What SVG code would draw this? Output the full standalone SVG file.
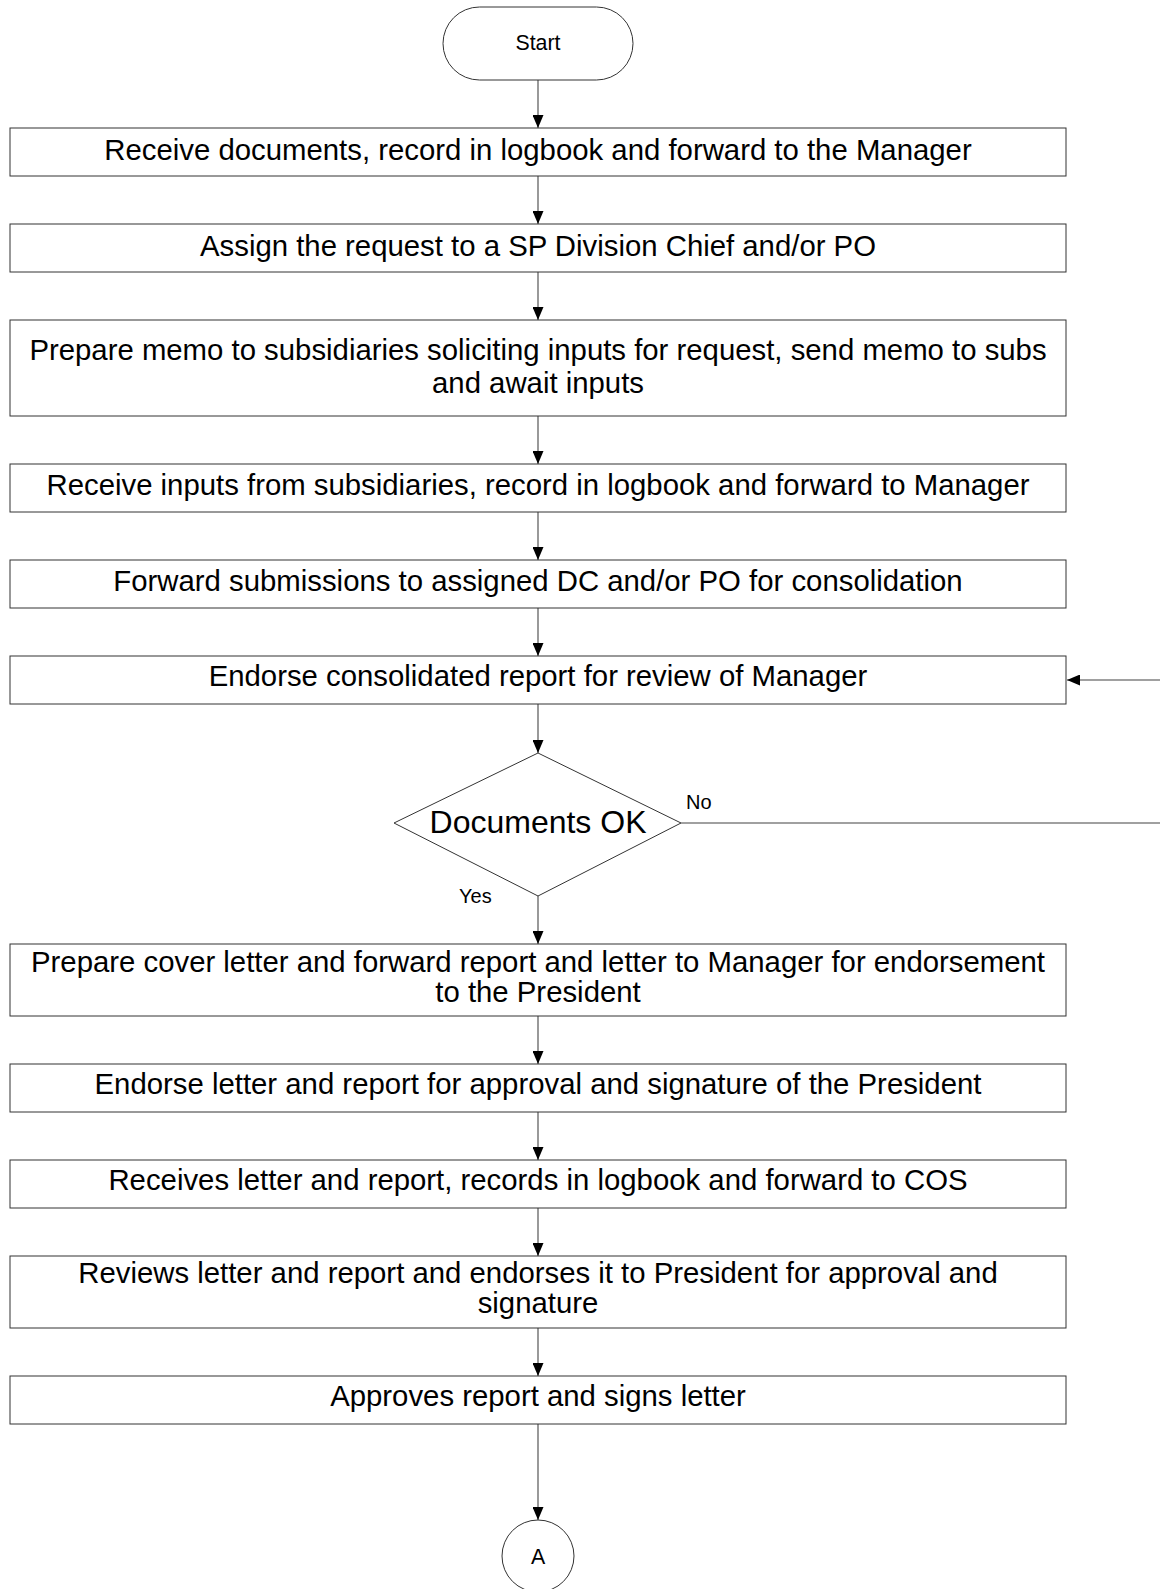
<svg xmlns="http://www.w3.org/2000/svg" width="1160" height="1589" viewBox="0 0 1160 1589">
<style>
.box{fill:#fff;stroke:#333;stroke-width:1}
.t{font-family:"Liberation Sans",Arial,sans-serif;font-size:29.33px;fill:#000;text-anchor:middle}
.s{font-family:"Liberation Sans",Arial,sans-serif;font-size:21.33px;fill:#000;text-anchor:middle}
.l{font-family:"Liberation Sans",Arial,sans-serif;font-size:20px;fill:#000}
.c{fill:none;stroke:#808080;stroke-width:1.6}
</style>
<defs>
<marker id="ah" viewBox="0 0 13 11" refX="13" refY="5.5" markerWidth="13" markerHeight="11" markerUnits="userSpaceOnUse" orient="auto">
<path d="M0,0 L13,5.5 L0,11 z" fill="#000"/>
</marker>
</defs>
<g id="connectors">
<line class="c" x1="538" y1="80" x2="538" y2="128" marker-end="url(#ah)"/>
<line class="c" x1="538" y1="176" x2="538" y2="224" marker-end="url(#ah)"/>
<line class="c" x1="538" y1="272" x2="538" y2="320" marker-end="url(#ah)"/>
<line class="c" x1="538" y1="416" x2="538" y2="464" marker-end="url(#ah)"/>
<line class="c" x1="538" y1="512" x2="538" y2="560" marker-end="url(#ah)"/>
<line class="c" x1="538" y1="608" x2="538" y2="656" marker-end="url(#ah)"/>
<line class="c" x1="538" y1="704" x2="538" y2="753" marker-end="url(#ah)"/>
<line class="c" x1="538" y1="896" x2="538" y2="944" marker-end="url(#ah)"/>
<line class="c" x1="538" y1="1016" x2="538" y2="1064" marker-end="url(#ah)"/>
<line class="c" x1="538" y1="1112" x2="538" y2="1160" marker-end="url(#ah)"/>
<line class="c" x1="538" y1="1208" x2="538" y2="1256" marker-end="url(#ah)"/>
<line class="c" x1="538" y1="1328" x2="538" y2="1376" marker-end="url(#ah)"/>
<line class="c" x1="538" y1="1424" x2="538" y2="1520" marker-end="url(#ah)"/>
<line class="c" x1="681" y1="823" x2="1160" y2="823"/>
<line class="c" x1="1160" y1="680" x2="1067" y2="680" marker-end="url(#ah)"/>
<text class="l" x="686" y="809">No</text>
<text class="l" x="459" y="903">Yes</text>
</g>
<g id="start">
<rect class="box" x="443" y="7" width="190" height="73" rx="36.5" ry="36.5"/>
<text class="s" x="538" y="50">Start</text>
</g>
<g id="n1">
<rect class="box" x="10" y="128" width="1056" height="48"/>
<text class="t" x="538" y="160">Receive documents, record in logbook and forward to the Manager</text>
</g>
<g id="n2">
<rect class="box" x="10" y="224" width="1056" height="48"/>
<text class="t" x="538" y="256">Assign the request to a SP Division Chief and/or PO</text>
</g>
<g id="n3">
<rect class="box" x="10" y="320" width="1056" height="96"/>
<text class="t" x="538" y="360">Prepare memo to subsidiaries soliciting inputs for request, send memo to subs</text>
<text class="t" x="538" y="393">and await inputs</text>
</g>
<g id="n4">
<rect class="box" x="10" y="464" width="1056" height="48"/>
<text class="t" x="538" y="495">Receive inputs from subsidiaries, record in logbook and forward to Manager</text>
</g>
<g id="n5">
<rect class="box" x="10" y="560" width="1056" height="48"/>
<text class="t" x="538" y="591">Forward submissions to assigned DC and/or PO for consolidation</text>
</g>
<g id="n6">
<rect class="box" x="10" y="656" width="1056" height="48"/>
<text class="t" x="538" y="686">Endorse consolidated report for review of Manager</text>
</g>
<g id="decision">
<polygon class="box" points="538,753 681,823 538,896 394,823"/>
<text x="538" y="833" font-family="Liberation Sans, Arial, sans-serif" font-size="32" text-anchor="middle">Documents OK</text>
</g>
<g id="n7">
<rect class="box" x="10" y="944" width="1056" height="72"/>
<text class="t" x="538" y="972">Prepare cover letter and forward report and letter to Manager for endorsement</text>
<text class="t" x="538" y="1002">to the President</text>
</g>
<g id="n8">
<rect class="box" x="10" y="1064" width="1056" height="48"/>
<text class="t" x="538" y="1094">Endorse letter and report for approval and signature of the President</text>
</g>
<g id="n9">
<rect class="box" x="10" y="1160" width="1056" height="48"/>
<text class="t" x="538" y="1190">Receives letter and report, records in logbook and forward to COS</text>
</g>
<g id="n10">
<rect class="box" x="10" y="1256" width="1056" height="72"/>
<text class="t" x="538" y="1283">Reviews letter and report and endorses it to President for approval and</text>
<text class="t" x="538" y="1313">signature</text>
</g>
<g id="n11">
<rect class="box" x="10" y="1376" width="1056" height="48"/>
<text class="t" x="538" y="1406">Approves report and signs letter</text>
</g>
<g id="endA">
<circle class="box" cx="538" cy="1556" r="36"/>
<text class="s" x="538" y="1564">A</text>
</g>
</svg>
